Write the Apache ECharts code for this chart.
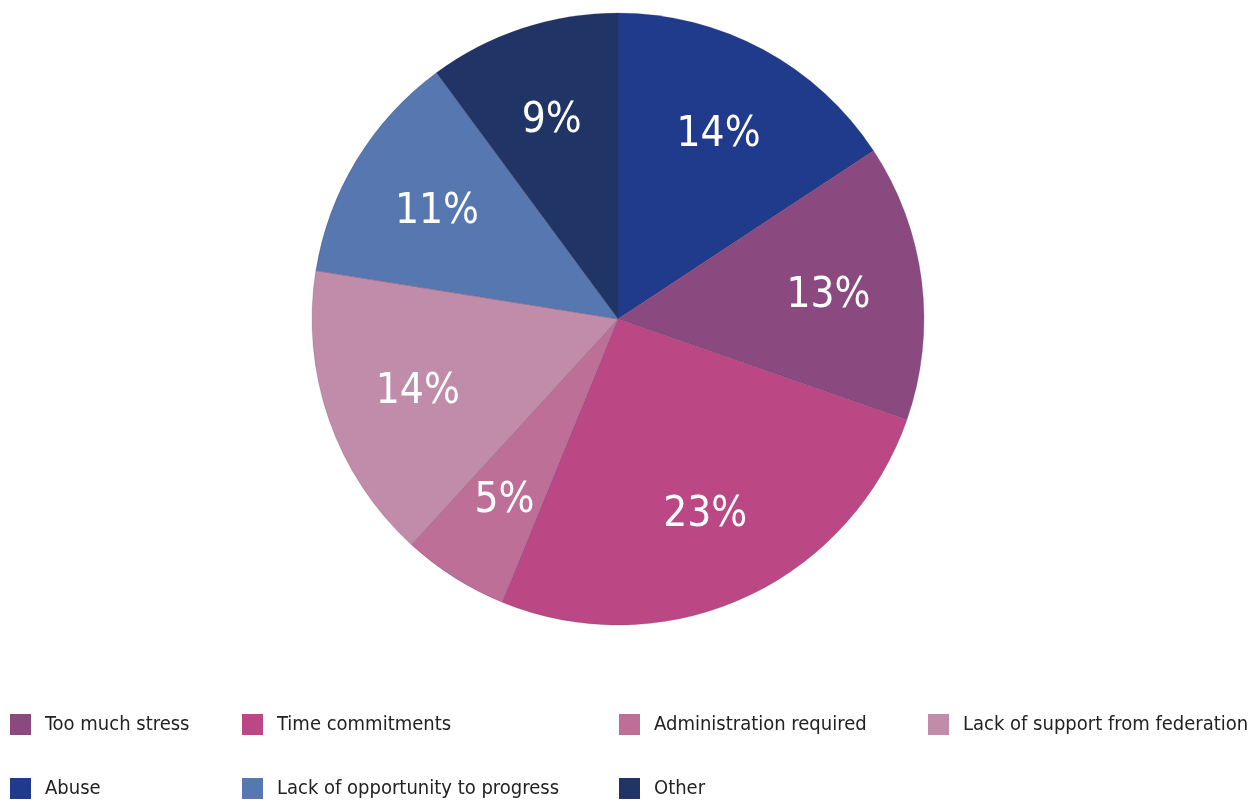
<!DOCTYPE html>
<html>
<head>
<meta charset="utf-8">
<script src="https://cdn.jsdelivr.net/npm/echarts@6/dist/echarts.min.js"></script>
<style>
  html, body { margin: 0; padding: 0; background: #ffffff; }
  #chart { width: 1248px; height: 805px; }
</style>
</head>
<body>
<div id="chart"></div>
<script>
// Reasons given, in clockwise order from 12 o'clock
const categories = [
  'Abuse',
  'Too much stress',
  'Time commitments',
  'Administration required',
  'Lack of support from federation',
  'Lack of opportunity to progress',
  'Other'
];
const percentages = [14, 13, 23, 5, 14, 11, 9];

// Legend columns (read top to bottom)
const legendColumns = [
  ['Too much stress', 'Abuse'],
  ['Time commitments', 'Lack of opportunity to progress'],
  ['Administration required', 'Other'],
  ['Lack of support from federation']
];

const palette = {
  'Abuse': '#213b8c',
  'Too much stress': '#8a4a80',
  'Time commitments': '#bb4885',
  'Administration required': '#be6f98',
  'Lack of support from federation': '#c08ca9',
  'Lack of opportunity to progress': '#5677af',
  'Other': '#203565'
};

const FONT = '"Liberation Sans Narrow", "DejaVu Sans Condensed", "Roboto Condensed", sans-serif';
const CX = 618, CY = 319, R = 306, LABEL_R = 212;
const columnLeft = [10, 242, 619, 928];

const chart = echarts.init(document.getElementById('chart'), null, { renderer: 'canvas' });

const legends = legendColumns.map((names, i) => ({
  orient: 'vertical',
  left: columnLeft[i],
  top: 714,
  height: 90,
  padding: 0,
  data: names,
  icon: 'rect',
  itemWidth: 21,
  itemHeight: 21,
  itemGap: 43,
  selectedMode: false,
  itemStyle: { borderWidth: 0 },
  textStyle: {
    fontFamily: FONT,
    fontSize: 20,
    lineHeight: 21,
    color: '#222222',
    padding: [0, 0, 0, 9]
  }
}));

chart.setOption({
  animation: false,
  legend: legends,
  series: [{
    type: 'pie',
    center: [CX, CY],
    radius: [0, R],
    startAngle: 90,
    clockwise: true,
    avoidLabelOverlap: false,
    data: categories.map((name, i) => ({
      name: name,
      value: percentages[i],
      itemStyle: { color: palette[name] }
    })),
    itemStyle: {
      borderColor: 'rgba(70, 50, 80, 0.35)',
      borderWidth: 0.6
    },
    label: {
      show: true,
      position: 'inside',
      formatter: p => p.value + '%',
      color: '#ffffff',
      fontFamily: FONT,
      fontSize: 42,
      fontWeight: 'normal'
    },
    labelLayout: function (params) {
      const r = params.labelRect;
      const lx = r.x + r.width / 2;
      const ly = r.y + r.height / 2;
      const d = Math.hypot(lx - CX, ly - CY) || 1;
      return {
        x: CX + (lx - CX) * LABEL_R / d,
        y: CY + (ly - CY) * LABEL_R / d + 3
      };
    },
    labelLine: { show: false },
    emphasis: { disabled: true }
  }]
});
</script>
</body>
</html>
